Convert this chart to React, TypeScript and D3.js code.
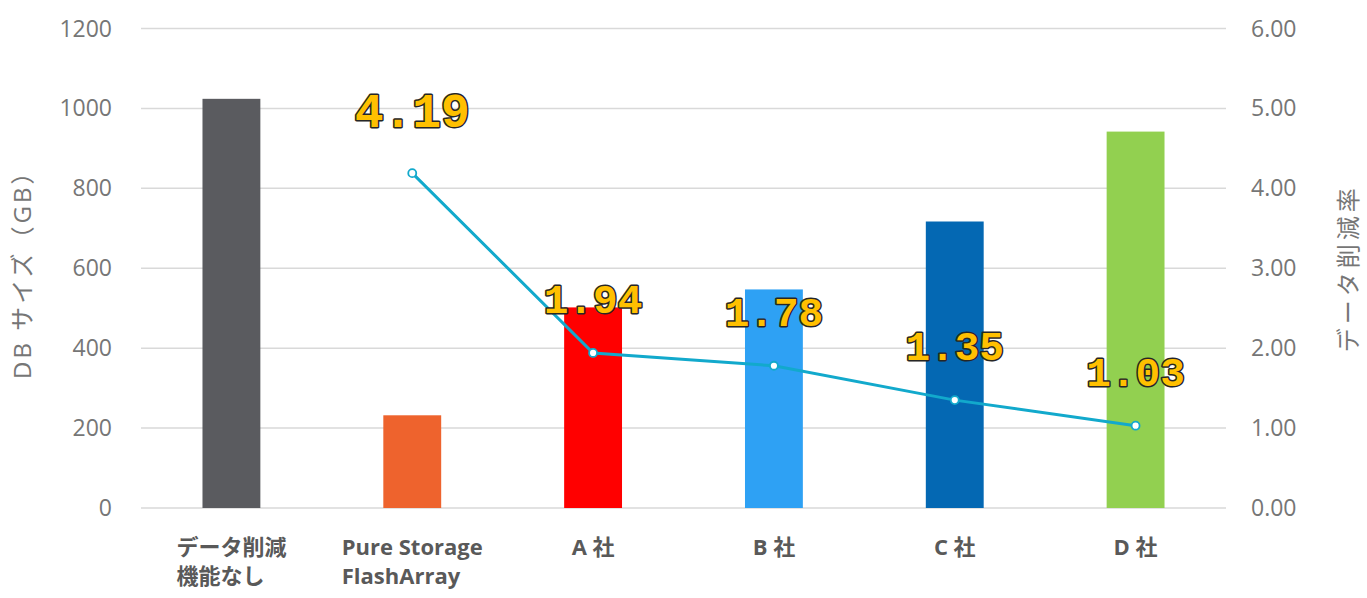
import { useEffect, useRef } from 'react'
import * as d3 from 'd3'

// categories (multi-line labels), bar values (GB), reduction ratios
const categories: string[][] = [
  ['データ削減', '機能なし'],
  ['Pure Storage', 'FlashArray'],
  ['A 社'],
  ['B 社'],
  ['C 社'],
  ['D 社'],
]
const dbSize = [1024, 232, 502, 547, 717, 942]
const ratios: (number | null)[] = [null, 4.19, 1.94, 1.78, 1.35, 1.03]
const barColors = ['#5A5B5F', '#EE632D', '#FF0000', '#2EA1F4', '#0468B3', '#92D050']
const leftTicks = [0, 200, 400, 600, 800, 1000, 1200]
const rightTicks = [0, 1, 2, 3, 4, 5, 6]

const W = 1367
const H = 598
const M = { top: 28, right: 141, bottom: 90, left: 141 }
const JP = '"Open Sans", "Noto Sans CJK JP", sans-serif'
const NUM = '"Open Sans", "Noto Sans", sans-serif'

export default function App() {
  const ref = useRef<SVGSVGElement>(null)

  useEffect(() => {
    if (!ref.current) return
    const svg = d3.select(ref.current)
    svg.selectAll('*').remove()

    const x0 = M.left
    const x1 = W - M.right
    const yTop = M.top + 0.5
    const yBot = H - M.bottom

    const x = d3.scaleBand<number>().domain(d3.range(categories.length)).range([x0, x1])
    const yL = d3.scaleLinear().domain([0, 1200]).range([yBot, yTop])
    const yR = d3.scaleLinear().domain([0, 6]).range([yBot, yTop])
    const cx = (i: number) => x(i)! + x.bandwidth() / 2

    // gridlines
    svg.append('g').selectAll('line').data(leftTicks).join('line')
      .attr('x1', x0).attr('x2', x1)
      .attr('y1', d => yL(d)).attr('y2', d => yL(d))
      .attr('stroke', '#D9D9D9').attr('stroke-width', 1.5)

    // left ticks
    svg.append('g').selectAll('text').data(leftTicks).join('text')
      .attr('x', x0 - 29).attr('y', d => yL(d)).attr('dy', '0.35em')
      .attr('text-anchor', 'end').attr('font-family', NUM).attr('font-size', 23)
      .attr('fill', '#767676').text(d => String(d))

    // right ticks
    svg.append('g').selectAll('text').data(rightTicks).join('text')
      .attr('x', x1 + 25).attr('y', d => yR(d)).attr('dy', '0.35em')
      .attr('text-anchor', 'start').attr('font-family', NUM).attr('font-size', 23)
      .attr('fill', '#767676').text(d => d.toFixed(2))

    // bars
    const bw = x.bandwidth() * 0.32
    svg.append('g').selectAll('rect').data(dbSize).join('rect')
      .attr('x', (_, i) => cx(i) - bw / 2)
      .attr('width', bw)
      .attr('y', d => yL(d))
      .attr('height', d => yBot - yL(d))
      .attr('fill', (_, i) => barColors[i])

    // ratio line
    const pts = ratios.map((r, i) => ({ r, i })).filter(p => p.r != null) as { r: number; i: number }[]
    const line = d3.line<{ r: number; i: number }>().x(p => cx(p.i)).y(p => yR(p.r))
    svg.append('path').datum(pts).attr('d', line)
      .attr('fill', 'none').attr('stroke', '#12A9CC').attr('stroke-width', 3)
    svg.append('g').selectAll('circle').data(pts).join('circle')
      .attr('cx', p => cx(p.i)).attr('cy', p => yR(p.r)).attr('r', 4)
      .attr('fill', '#fff').attr('stroke', '#12A9CC').attr('stroke-width', 1.8)

    // ratio labels
    svg.append('g').selectAll('text').data(pts).join('text')
      .attr('x', p => cx(p.i))
      .attr('y', (p, k) => yR(p.r) - (k === 0 ? 46 : 40))
      .attr('text-anchor', 'middle')
      .attr('font-family', '"Liberation Mono", "DejaVu Sans Mono", monospace')
      .attr('font-weight', 'bold')
      .attr('font-size', (_, k) => (k === 0 ? 48 : 41))
      .attr('fill', '#FFC000').attr('stroke', '#262626').attr('stroke-width', 3)
      .attr('paint-order', 'stroke').attr('stroke-linejoin', 'round')
      .text(p => p.r.toFixed(2))

    // category labels: lines left-aligned, block centered under bar
    categories.forEach((lines, i) => {
      const g = svg.append('g')
      const texts = lines.map((s, li) =>
        g.append('text')
          .attr('y', yBot + 47 + li * 29)
          .attr('font-family', JP).attr('font-weight', 'bold').attr('font-size', 22)
          .attr('fill', '#595959').text(s))
      const widths = texts.map(t => (t.node() as SVGTextElement).getComputedTextLength())
      const left = cx(i) - d3.max(widths)! / 2
      texts.forEach(t => t.attr('x', left))
    })

    // axis titles
    svg.append('text')
      .attr('transform', `translate(31,${(yTop + yBot) / 2}) rotate(-90)`)
      .attr('text-anchor', 'middle').attr('font-family', JP).attr('font-size', 24)
      .attr('letter-spacing', 3).attr('fill', '#767676')
      .text('DB サイズ（GB）')
    svg.append('text')
      .attr('transform', `translate(1357,${(yTop + yBot) / 2}) rotate(-90)`)
      .attr('text-anchor', 'middle').attr('font-family', JP).attr('font-size', 24)
      .attr('letter-spacing', 4).attr('fill', '#767676')
      .text('データ削減率')
  }, [])

  return (
    <svg ref={ref} width={W} height={H}
      style={{ position: 'absolute', left: 0, top: 0, background: '#fff' }} />
  )
}
